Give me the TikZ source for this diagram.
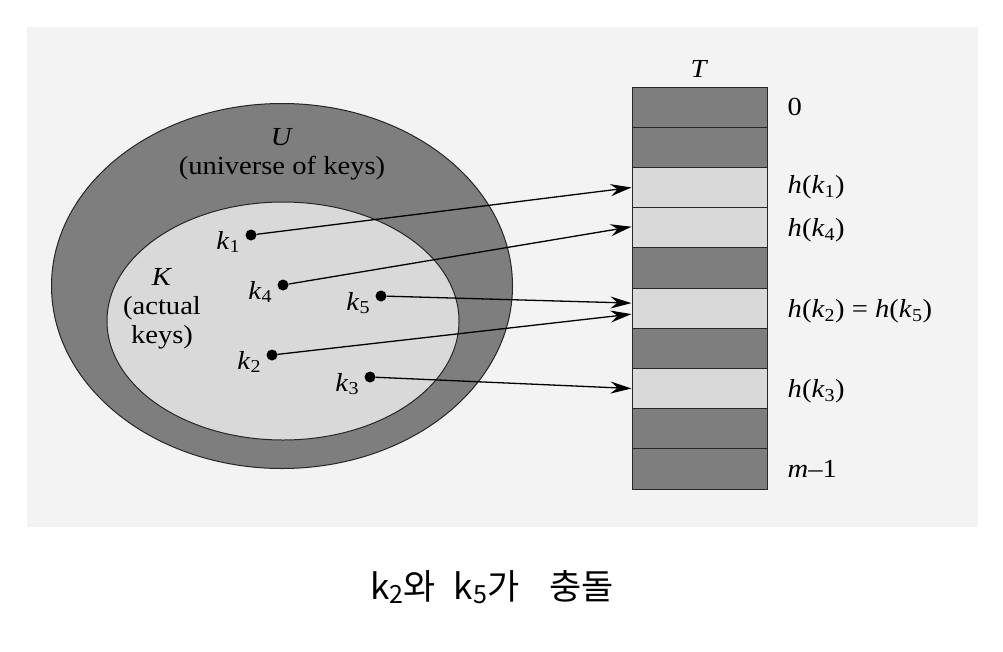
\documentclass[tikz,border=0pt]{standalone}
\usepackage{fontspec}
\setmainfont{Liberation Serif}[FakeStretch=1.1]
\newfontfamily\kofont{Noto Sans CJK KR}
\usetikzlibrary{arrows.meta,positioning,shapes.geometric}
\definecolor{bggray}{HTML}{F3F3F3}
\definecolor{darkcell}{HTML}{7E7E7E}
\definecolor{lightcell}{HTML}{D9D9D9}
\newcommand{\capsub}[1]{\raisebox{-4pt}{\fontsize{25}{25}\selectfont #1}}

\begin{document}
\begin{tikzpicture}[
    x=1pt, y=-1pt,
    >={Stealth[length=21pt,width=12pt,inset=7pt]},
    font=\fontsize{26}{29}\selectfont,
    slot/.style={
		rectangle,
		draw=black!85,
		line width=1pt,
		minimum width=135pt,
		minimum height=40.2pt,
		inner sep=0pt
	},
	dark/.style={slot, fill=darkcell},
	light/.style={slot, fill=lightcell},
	key/.style={circle, fill=black, inner sep=0pt, minimum size=11pt},
	keylabel/.style={inner sep=0pt},
	slotlabel/.style={anchor=west, inner sep=0pt},
	hash/.style={->, line width=1.3pt}
  ]
  % background and margins
  \fill[white] (0,0) rectangle (1003,651);
  \fill[bggray] (27,27) rectangle (978,527);

  % the two sets
  \node [ellipse, draw=black!85, line width=1pt, fill=darkcell,
         minimum width=461pt, minimum height=365pt] (universe) at (282,286) {};
  \node [ellipse, draw=black!85, line width=1pt, fill=lightcell,
         minimum width=352pt, minimum height=238pt] (actual) at (283,321) {};
  \node [align=center] (ulabel) at (282,154) {\textit{U}\\(universe of keys)};
  \node [align=center] (klabel) at (162,309) {\textit{K}\\(actual\\keys)};

  % the table T
  \foreach \i/\c in {0/dark,1/dark,2/light,3/light,4/dark,5/light,6/dark,7/light,8/dark,9/dark}
    \node [\c] (slot\i) at (699.5,{87+40.2*(\i+0.5)}) {};
  \node [above=5pt of slot0] (tlabel) {\textit{T}};

  \node [slotlabel, right=20pt of slot0] {0};
  \node [slotlabel, right=20pt of slot2] {\textit{h}(\textit{k}\textsubscript{1})};
  \node [slotlabel, right=20pt of slot3, yshift=-3pt] {\textit{h}(\textit{k}\textsubscript{4})};
  \node [slotlabel, right=20pt of slot5, yshift=-3pt] {\textit{h}(\textit{k}\textsubscript{2}) = \textit{h}(\textit{k}\textsubscript{5})};
  \node [slotlabel, right=20pt of slot7, yshift=-3pt] {\textit{h}(\textit{k}\textsubscript{3})};
  \node [slotlabel, right=20pt of slot9] {\textit{m}–1};

  % the keys
  \node [key] (k1) at (251,235) {};
  \node [key] (k4) at (283,285) {};
  \node [key] (k5) at (381,296) {};
  \node [key] (k2) at (272,355) {};
  \node [key] (k3) at (370,377) {};
  \node [keylabel, left=5pt of k1, yshift=-7pt] {\textit{k}\textsubscript{1}};
  \node [keylabel, left=5pt of k4, yshift=-7pt] {\textit{k}\textsubscript{4}};
  \node [keylabel, left=5pt of k5, yshift=-7pt] {\textit{k}\textsubscript{5}};
  \node [keylabel, left=5pt of k2, yshift=-7pt] {\textit{k}\textsubscript{2}};
  \node [keylabel, left=5pt of k3, yshift=-7pt] {\textit{k}\textsubscript{3}};

  % hashing
  \draw [hash] (k1) -- (slot2.west);
  \draw [hash] (k4) -- ([yshift=1pt]slot3.west);
  \draw [hash] (k5) -- ([yshift=5pt]slot5.west);
  \draw [hash] (k2) -- ([yshift=-6pt]slot5.west);
  \draw [hash] (k3) -- (slot7.west);

  % caption
  \node [font=\kofont\fontsize{35}{38}\selectfont] (caption) at (492,587)
    {k\capsub{2}와\hspace{18pt}k\capsub{5}가\hspace{30pt}충돌};
\end{tikzpicture}
\end{document}
